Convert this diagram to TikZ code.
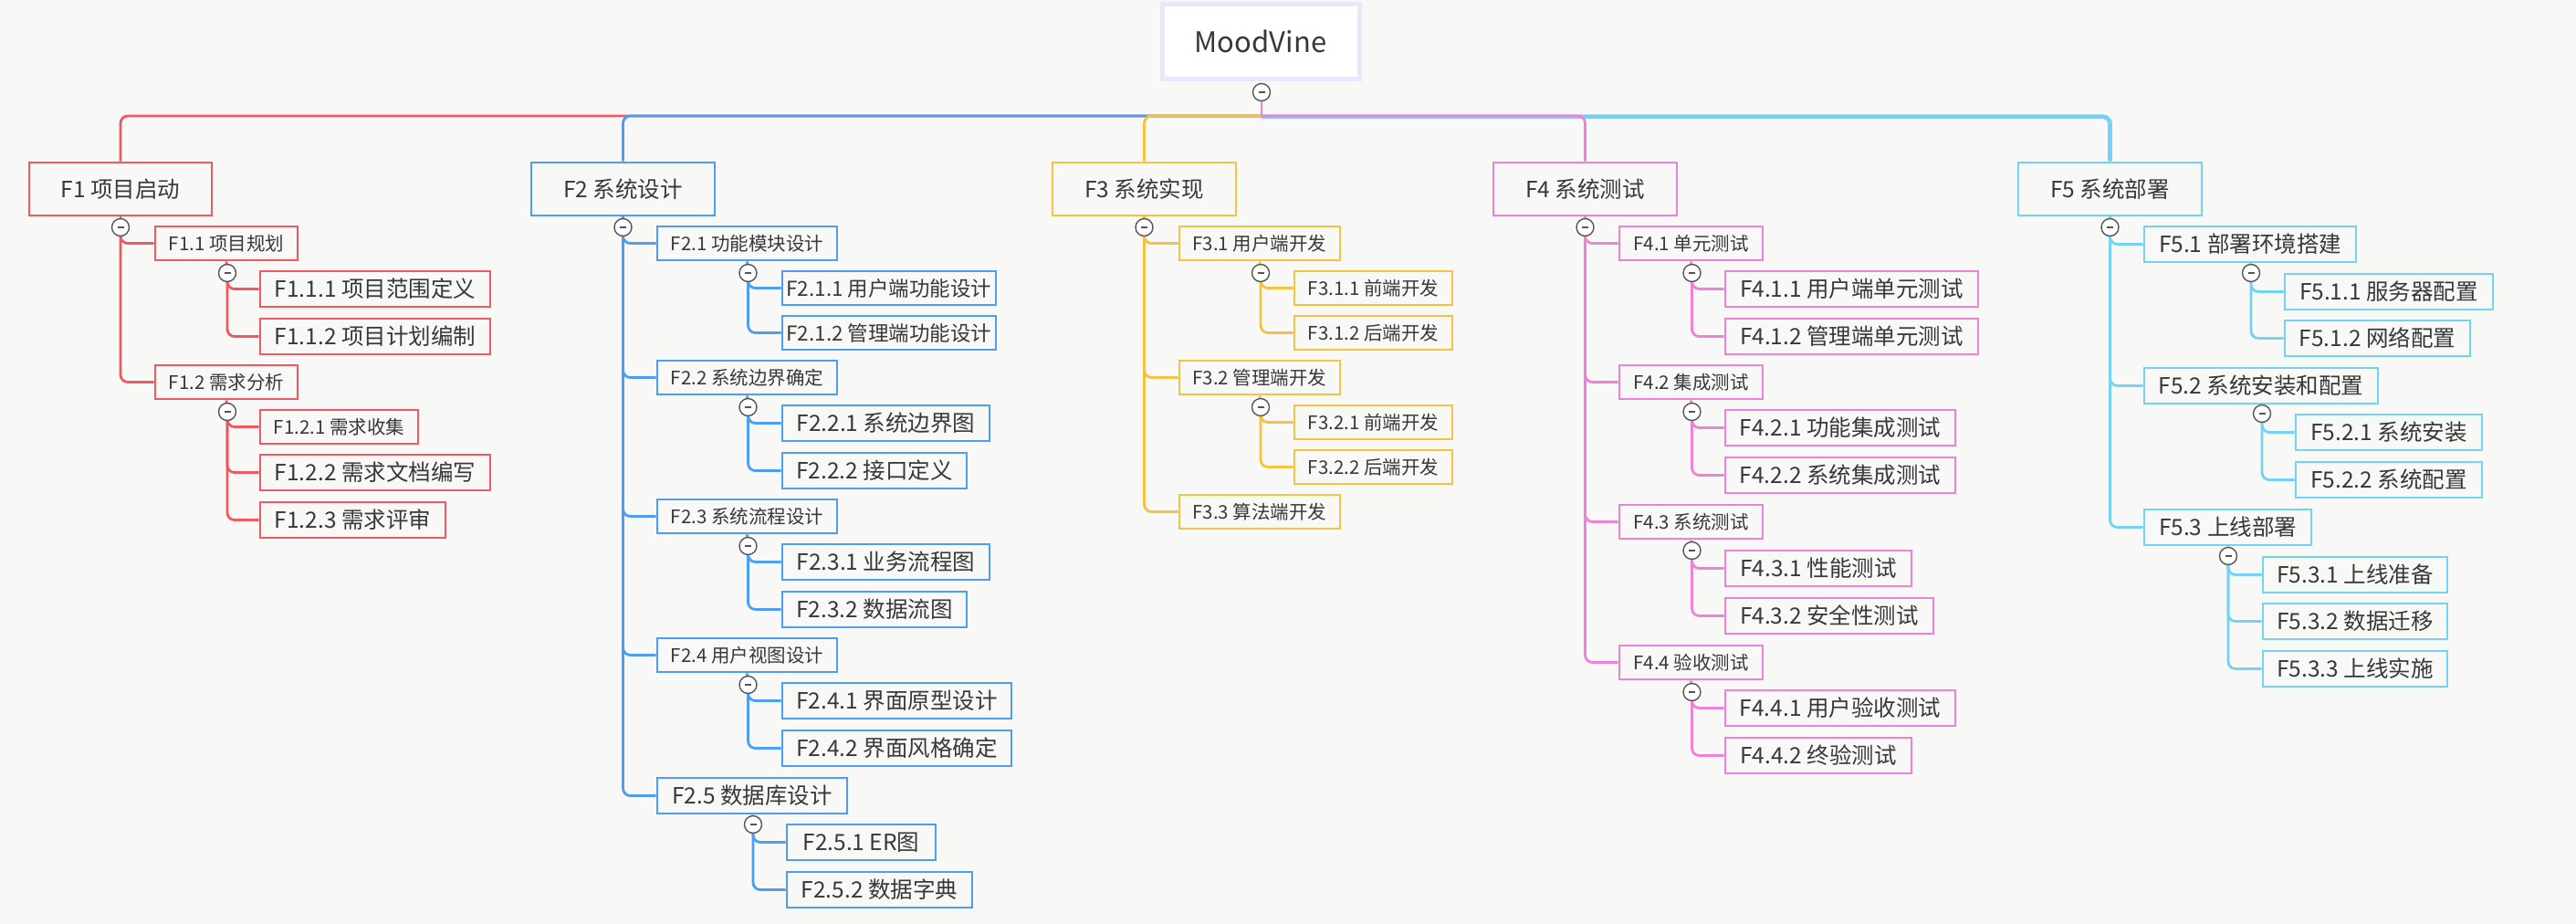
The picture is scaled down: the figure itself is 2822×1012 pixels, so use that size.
\documentclass[tikz,border=0pt]{standalone}
\usepackage{fontspec}
\setmainfont{Noto Sans CJK SC}
\definecolor{bg}{HTML}{F8F8F7}
\definecolor{txt}{HTML}{383838}
\definecolor{cR}{HTML}{EF5961}
\definecolor{cB}{HTML}{4D9DF2}
\definecolor{cY}{HTML}{F6C240}
\definecolor{cP}{HTML}{EE82D8}
\definecolor{cC}{HTML}{74D2F3}
\definecolor{rootb}{HTML}{E6E9FC}
\definecolor{btn}{HTML}{555555}
\newcommand\fL{\fontsize{24.5}{28}\selectfont}
\newcommand\fM{\fontsize{22.5}{26}\selectfont}
\newcommand\fS{\fontsize{20.5}{24}\selectfont}
\newcommand\bx[8]{\node[nbox,#6,font=#7,minimum width={#4-#2},minimum height={#5-#3}] (#1) at ({(#2+#4)/2},{(#3+#5)/2}) {#8};}
\newcommand\ch[3]{\draw[conn,#1] (#2) |- (#3.west);}
\newcommand\stub[3]{\draw[conn,#1] (#2.south) -- (#3);}
\tikzset{
  nbox/.style={draw, line width=2.8pt, inner sep=0pt, text=txt, rectangle},
  conn/.style={line width=2.8pt, rounded corners=8pt},
  redc/.style={draw=cR}, bluec/.style={draw=cB}, yelc/.style={draw=cY},
  pinkc/.style={draw=cP}, cyanc/.style={draw=cC},
  colbtn/.style={circle, draw=btn, line width=1.4pt, fill=white, minimum size=19pt, inner sep=0pt,
    path picture={\draw[btn, line width=1.8pt] ([xshift=-3.5pt]path picture bounding box.center) -- ([xshift=3.5pt]path picture bounding box.center);}},
}
\begin{document}
\begin{tikzpicture}[x=1pt,y=-1pt]
\useasboundingbox (0,0) rectangle (2822,1012);
\fill[bg] (0,0) rectangle (2822,1012);

% root
\node[draw=rootb, line width=5pt, fill=white, minimum width=216pt, minimum height=82pt, inner sep=0pt,
  text=txt, font=\fontsize{31}{36}\selectfont] (root) at (1381,45) {MoodVine};
\coordinate (rc) at (1382,101);
\coordinate (bus) at (0,127);

% level 1 boxes
\bx{F1}{32}{178}{232}{236}{redc}{\fL}{F1 项目启动}
\bx{F2}{582}{178}{783}{236}{bluec}{\fL}{F2 系统设计}
\bx{F3}{1153}{178}{1354}{236}{yelc}{\fL}{F3 系统实现}
\bx{F4}{1636}{178}{1837}{236}{pinkc}{\fL}{F4 系统测试}
\bx{F5}{2211}{178}{2412}{236}{cyanc}{\fL}{F5 系统部署}

% trunk connectors
\coordinate (hub) at (rc |- bus);
\draw[conn,redc] (hub) -| (F1.north);
\draw[conn,bluec] (hub) -| (F2.north);
\draw[conn,yelc] (hub) -| (F3.north);
\draw[conn,cyanc,line width=4.8pt] ([yshift=-0.8pt]hub) -| (F5.north);
\draw[conn,pinkc] (hub) -| (F4.north);
\draw[line width=2.8pt,cP] (rc) -- ([yshift=-1.4pt]hub);

% ---------- F1 ----------
\bx{F11}{170}{248}{326}{285}{redc}{\fS}{F1.1 项目规划}
\bx{F12}{170}{400}{326}{437}{redc}{\fS}{F1.2 需求分析}
\bx{F111}{285}{297}{537}{336}{redc}{\fL}{F1.1.1 项目范围定义}
\bx{F112}{285}{349}{537}{388}{redc}{\fL}{F1.1.2 项目计划编制}
\bx{F121}{285}{449}{458}{486}{redc}{\fS}{F1.2.1 需求收集}
\bx{F122}{285}{498}{537}{537}{redc}{\fL}{F1.2.2 需求文档编写}
\bx{F123}{285}{550}{488}{589}{redc}{\fL}{F1.2.3 需求评审}
% ---------- F2 ----------
\bx{F21}{720}{248}{917}{285}{bluec}{\fS}{F2.1 功能模块设计}
\bx{F211}{857}{297}{1091}{334}{bluec}{\fM}{F2.1.1 用户端功能设计}
\bx{F212}{857}{346}{1091}{383}{bluec}{\fM}{F2.1.2 管理端功能设计}
\bx{F22}{720}{395}{917}{432}{bluec}{\fS}{F2.2 系统边界确定}
\bx{F221}{857}{444}{1084}{483}{bluec}{\fL}{F2.2.1 系统边界图}
\bx{F222}{857}{496}{1059}{535}{bluec}{\fL}{F2.2.2 接口定义}
\bx{F23}{720}{547}{917}{584}{bluec}{\fS}{F2.3 系统流程设计}
\bx{F231}{857}{596}{1084}{635}{bluec}{\fL}{F2.3.1 业务流程图}
\bx{F232}{857}{648}{1059}{687}{bluec}{\fL}{F2.3.2 数据流图}
\bx{F24}{720}{699}{917}{736}{bluec}{\fS}{F2.4 用户视图设计}
\bx{F241}{857}{748}{1108}{787}{bluec}{\fL}{F2.4.1 界面原型设计}
\bx{F242}{857}{800}{1108}{839}{bluec}{\fL}{F2.4.2 界面风格确定}
\bx{F25}{720}{852}{928}{891}{bluec}{\fL}{F2.5 数据库设计}
\bx{F251}{862}{903}{1025}{942}{bluec}{\fL}{F2.5.1 ER图}
\bx{F252}{862}{955}{1065}{994}{bluec}{\fL}{F2.5.2 数据字典}
% ---------- F3 ----------
\bx{F31}{1292}{248}{1468}{285}{yelc}{\fS}{F3.1 用户端开发}
\bx{F311}{1418}{297}{1591}{334}{yelc}{\fS}{F3.1.1 前端开发}
\bx{F312}{1418}{346}{1591}{383}{yelc}{\fS}{F3.1.2 后端开发}
\bx{F32}{1292}{395}{1468}{432}{yelc}{\fS}{F3.2 管理端开发}
\bx{F321}{1418}{444}{1591}{481}{yelc}{\fS}{F3.2.1 前端开发}
\bx{F322}{1418}{493}{1591}{530}{yelc}{\fS}{F3.2.2 后端开发}
\bx{F33}{1292}{542}{1468}{579}{yelc}{\fS}{F3.3 算法端开发}
% ---------- F4 ----------
\bx{F41}{1774}{248}{1931}{285}{pinkc}{\fS}{F4.1 单元测试}
\bx{F411}{1890}{297}{2167}{336}{pinkc}{\fL}{F4.1.1 用户端单元测试}
\bx{F412}{1890}{349}{2167}{388}{pinkc}{\fL}{F4.1.2 管理端单元测试}
\bx{F42}{1774}{400}{1931}{437}{pinkc}{\fS}{F4.2 集成测试}
\bx{F421}{1890}{449}{2142}{488}{pinkc}{\fL}{F4.2.1 功能集成测试}
\bx{F422}{1890}{501}{2142}{540}{pinkc}{\fL}{F4.2.2 系统集成测试}
\bx{F43}{1774}{553}{1931}{590}{pinkc}{\fS}{F4.3 系统测试}
\bx{F431}{1890}{603}{2094}{642}{pinkc}{\fL}{F4.3.1 性能测试}
\bx{F432}{1890}{655}{2118}{694}{pinkc}{\fL}{F4.3.2 安全性测试}
\bx{F44}{1774}{707}{1931}{744}{pinkc}{\fS}{F4.4 验收测试}
\bx{F441}{1890}{756}{2142}{795}{pinkc}{\fL}{F4.4.1 用户验收测试}
\bx{F442}{1890}{808}{2094}{847}{pinkc}{\fL}{F4.4.2 终验测试}
% ---------- F5 ----------
\bx{F51}{2349}{248}{2581}{287}{cyanc}{\fL}{F5.1 部署环境搭建}
\bx{F511}{2503}{300}{2731}{339}{cyanc}{\fL}{F5.1.1 服务器配置}
\bx{F512}{2503}{351}{2706}{390}{cyanc}{\fL}{F5.1.2 网络配置}
\bx{F52}{2349}{403}{2605}{442}{cyanc}{\fL}{F5.2 系统安装和配置}
\bx{F521}{2515}{454}{2719}{493}{cyanc}{\fL}{F5.2.1 系统安装}
\bx{F522}{2515}{506}{2719}{545}{cyanc}{\fL}{F5.2.2 系统配置}
\bx{F53}{2349}{558}{2532}{597}{cyanc}{\fL}{F5.3 上线部署}
\bx{F531}{2479}{610}{2681}{649}{cyanc}{\fL}{F5.3.1 上线准备}
\bx{F532}{2479}{661}{2681}{700}{cyanc}{\fL}{F5.3.2 数据迁移}
\bx{F533}{2479}{713}{2681}{752}{cyanc}{\fL}{F5.3.3 上线实施}

% collapse button positions
\coordinate (k1) at (132,249);  \coordinate (k2) at (682.5,249); \coordinate (k3) at (1253.5,249);
\coordinate (k4) at (1736.5,249); \coordinate (k5) at (2311.5,249);
\coordinate (k11) at (249,299); \coordinate (k12) at (249,451);
\coordinate (k21) at (819.5,299); \coordinate (k22) at (819.5,446); \coordinate (k23) at (819.5,598);
\coordinate (k24) at (819.5,750); \coordinate (k25) at (825,903);
\coordinate (k31) at (1381,299); \coordinate (k32) at (1381,446);
\coordinate (k41) at (1853.5,299); \coordinate (k42) at (1853.5,451); \coordinate (k43) at (1853.5,603); \coordinate (k44) at (1853.5,758);
\coordinate (k51) at (2466,299); \coordinate (k52) at (2478,453); \coordinate (k53) at (2441,609);

% child connectors
\ch{redc}{k1}{F11} \ch{redc}{k1}{F12}
\ch{redc}{k11}{F111} \ch{redc}{k11}{F112}
\ch{redc}{k12}{F121} \ch{redc}{k12}{F122} \ch{redc}{k12}{F123}
\stub{redc}{F1}{k1} \stub{redc}{F11}{k11} \stub{redc}{F12}{k12}

\ch{bluec}{k2}{F21} \ch{bluec}{k2}{F22} \ch{bluec}{k2}{F23} \ch{bluec}{k2}{F24} \ch{bluec}{k2}{F25}
\ch{bluec}{k21}{F211} \ch{bluec}{k21}{F212}
\ch{bluec}{k22}{F221} \ch{bluec}{k22}{F222}
\ch{bluec}{k23}{F231} \ch{bluec}{k23}{F232}
\ch{bluec}{k24}{F241} \ch{bluec}{k24}{F242}
\ch{bluec}{k25}{F251} \ch{bluec}{k25}{F252}
\stub{bluec}{F2}{k2} \stub{bluec}{F21}{k21} \stub{bluec}{F22}{k22} \stub{bluec}{F23}{k23} \stub{bluec}{F24}{k24} \stub{bluec}{F25}{k25}

\ch{yelc}{k3}{F31} \ch{yelc}{k3}{F32} \ch{yelc}{k3}{F33}
\ch{yelc}{k31}{F311} \ch{yelc}{k31}{F312}
\ch{yelc}{k32}{F321} \ch{yelc}{k32}{F322}
\stub{yelc}{F3}{k3} \stub{yelc}{F31}{k31} \stub{yelc}{F32}{k32}

\ch{pinkc}{k4}{F41} \ch{pinkc}{k4}{F42} \ch{pinkc}{k4}{F43} \ch{pinkc}{k4}{F44}
\ch{pinkc}{k41}{F411} \ch{pinkc}{k41}{F412}
\ch{pinkc}{k42}{F421} \ch{pinkc}{k42}{F422}
\ch{pinkc}{k43}{F431} \ch{pinkc}{k43}{F432}
\ch{pinkc}{k44}{F441} \ch{pinkc}{k44}{F442}
\stub{pinkc}{F4}{k4} \stub{pinkc}{F41}{k41} \stub{pinkc}{F42}{k42} \stub{pinkc}{F43}{k43} \stub{pinkc}{F44}{k44}

\ch{cyanc}{k5}{F51} \ch{cyanc}{k5}{F52} \ch{cyanc}{k5}{F53}
\ch{cyanc}{k51}{F511} \ch{cyanc}{k51}{F512}
\ch{cyanc}{k52}{F521} \ch{cyanc}{k52}{F522}
\ch{cyanc}{k53}{F531} \ch{cyanc}{k53}{F532} \ch{cyanc}{k53}{F533}
\stub{cyanc}{F5}{k5} \stub{cyanc}{F51}{k51} \stub{cyanc}{F52}{k52} \stub{cyanc}{F53}{k53}

% buttons on top
\foreach \k in {k1,k2,k3,k4,k5,k11,k12,k21,k22,k23,k24,k25,k31,k32,k41,k42,k43,k44,k51,k52,k53}
  \node[colbtn] (b\k) at (\k) {};
\node[colbtn] (broot) at (rc) {};
\end{tikzpicture}
\end{document}
